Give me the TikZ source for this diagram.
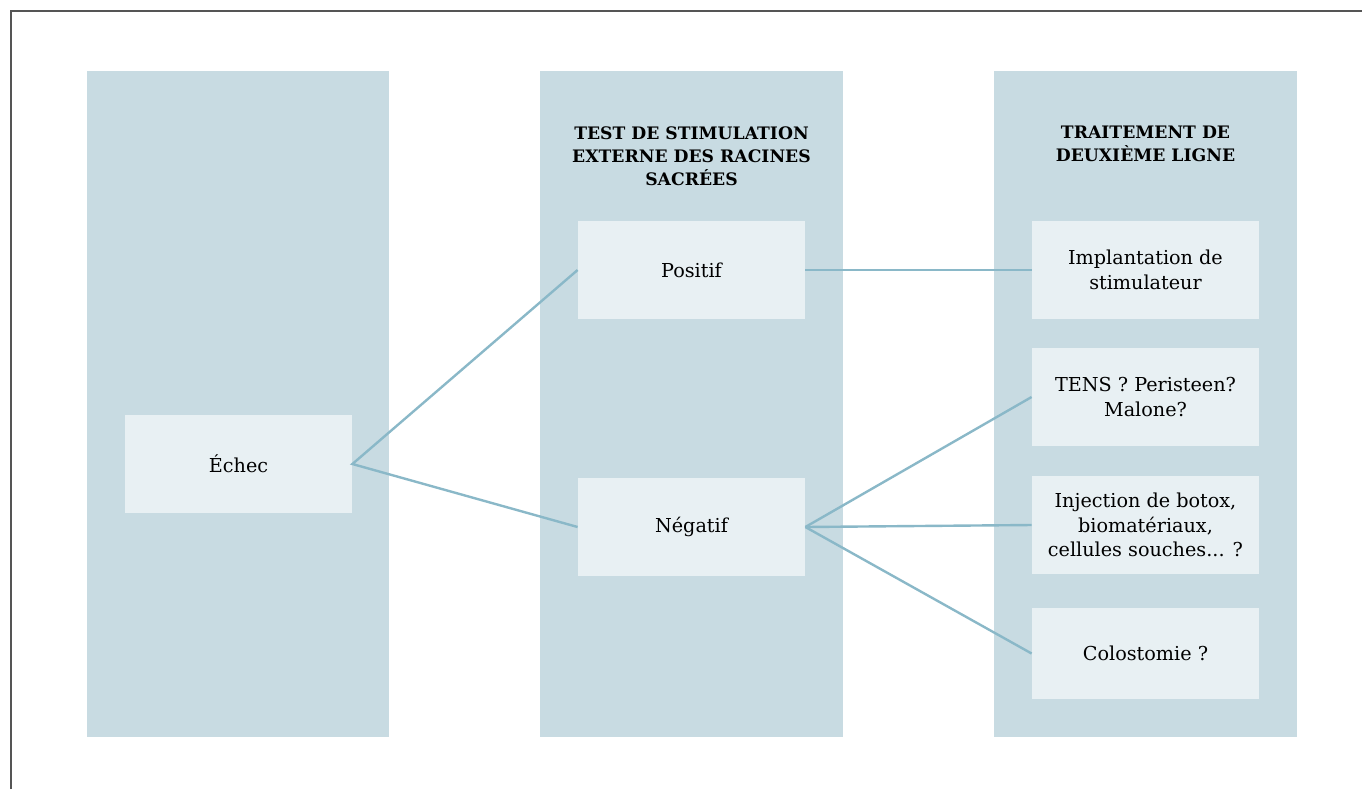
\documentclass[tikz,border=0pt]{standalone}
\usepackage{fontspec}
\setmainfont{DejaVu Serif}
\usepackage{tikz}
\usetikzlibrary{positioning,calc}
\usepackage{xcolor}
\definecolor{colbg}{HTML}{C8DBE2}
\definecolor{boxbg}{HTML}{E8F0F3}
\definecolor{linkc}{HTML}{8AB8C8}
\definecolor{framec}{HTML}{555555}

\begin{document}
\begin{tikzpicture}[x=0.5pt, y=-0.5pt,
    column/.style={fill=colbg, draw=none},
    choice/.style={fill=boxbg, draw=none, minimum width=113.5pt, minimum height=49pt,
        inner sep=0pt, align=center, font=\fontsize{9.6}{12.2}\selectfont},
    heading/.style={align=center, font=\bfseries\fontsize{8.6}{11.6}\selectfont},
    link/.style={draw=linkc, line width=1.2pt}]
    \useasboundingbox (0,0) rectangle (1362,789);

    % Frame
    \draw[framec, line width=1pt] (11,789) -- (11,11) -- (1362,11);

    % Columns
    \fill[colbg] (87,71) rectangle (389,737);
    \fill[colbg] (540,71) rectangle (843,737);
    \fill[colbg] (994,71) rectangle (1297,737);

    % Headings
    \node[heading] (headtest) at (691.5, 156) {TEST DE STIMULATION\\EXTERNE DES RACINES\\SACRÉES};
    \node[heading] (headtrait) at (1145.5, 144) {TRAITEMENT DE\\DEUXIÈME LIGNE};

    % Boxes
    \node[choice] (echec) at (238.5, 464) {Échec};
    \node[choice] (positif) at (691.5, 270) {Positif};
    \node[choice] (negatif) at (691.5, 527) {Négatif};
    \node[choice] (implant) at (1145.5, 270) {Implantation de\\stimulateur};
    \node[choice] (tens) at (1145.5, 397) {TENS ? Peristeen?\\Malone?};
    \node[choice] (inject) at (1145.5, 525) {Injection de botox,\\biomatériaux,\\cellules souches... ?};
    \node[choice, minimum height=45.5pt] (colo) at (1145.5, 653.5) {Colostomie ?};

    % Links
    \draw[link] (positif.west) -- (echec.east) -- (negatif.west);
    \draw[link] (positif.east) -- (implant.west);
    \draw[link] (negatif.east) -- (tens.west);
    \draw[link] (negatif.east) -- (inject.west);
    \draw[link] (negatif.east) -- (colo.west);
\end{tikzpicture}
\end{document}
